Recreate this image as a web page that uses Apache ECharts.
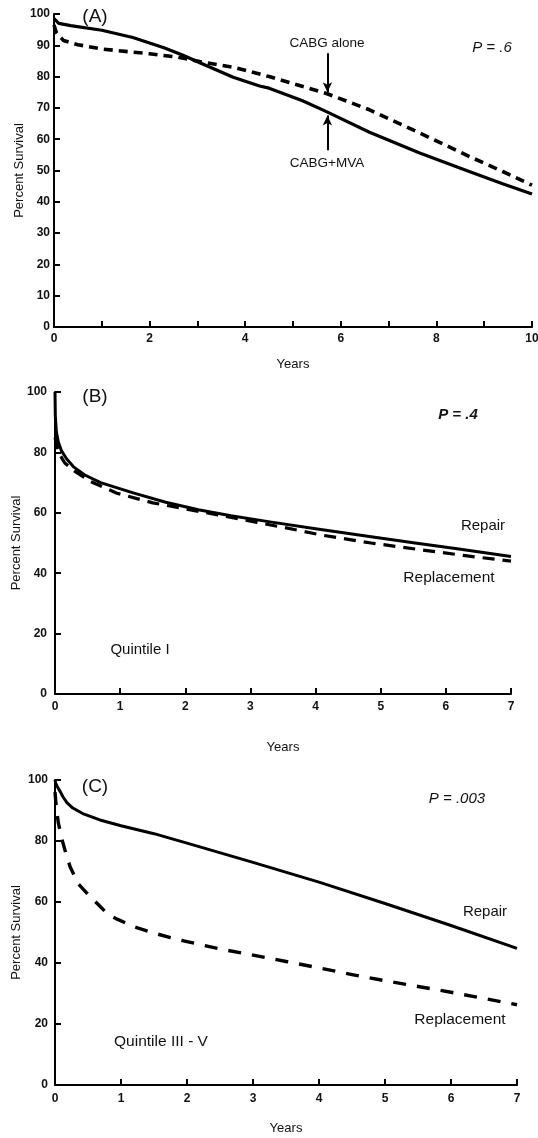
<!DOCTYPE html>
<html>
<head>
<meta charset="utf-8">
<script src="https://cdn.jsdelivr.net/npm/echarts@6/dist/echarts.min.js"></script>
<style>
  html, body { margin: 0; padding: 0; background: #fff; }
  #chart { width: 538px; height: 1138px; }
</style>
</head>
<body>
<div id="chart"></div>
<script>
// panel A: CABG+MVA vs CABG alone, 10 years
const aMvaYears = [0, 0.1, 0.35, 1, 1.65, 2.3, 2.7, 3.05, 3.75, 4.3, 4.5, 5.2, 5.7, 6.6, 7.65, 8.7, 9.4, 10]
const aMvaVals = [98.5, 97, 96.3, 94.8, 92.5, 89.2, 86.8, 84.4, 79.8, 77, 76.3, 72.3, 68.8, 62.2, 55.6, 49.6, 45.7, 42.5]
const aAloneYears = [0, 0.05, 0.2, 0.5, 1, 2, 2.6, 3.05, 3.75, 4.5, 5.7, 6.6, 7.65, 8.7, 9.4, 10]
const aAloneVals = [96.5, 94, 91.5, 90.2, 88.8, 87.3, 86.2, 84.8, 83, 80, 74.6, 69.4, 62, 54.4, 49.6, 45.3]

// panel B: Quintile I
const bRepairYears = [0, 0.005, 0.02, 0.05, 0.1, 0.18, 0.28, 0.45, 0.7, 1.2, 1.7, 2.2, 2.7, 3.3, 4, 4.8, 5.5, 6.2, 7]
const bRepairVals = [100, 92, 87, 83.5, 80.5, 77.8, 75.3, 72.6, 70, 66.6, 63.5, 61, 59, 57, 54.7, 52.2, 50.1, 48, 45.5]
const bReplYears = [0, 0.03, 0.08, 0.15, 0.3, 0.55, 0.95, 1.5, 2, 2.5, 3.1, 3.5, 4.1, 4.85, 5.6, 6.3, 7]
const bReplVals = [85, 82, 79, 76.5, 73.8, 70.3, 66.5, 63.3, 61.3, 59.3, 56.8, 55.2, 52.6, 50, 47.8, 45.8, 44]

// panel C: Quintile III - V
const cRepairYears = [0, 0.01, 0.04, 0.08, 0.12, 0.18, 0.27, 0.42, 0.68, 1, 1.5, 2, 3, 4, 5, 6, 7]
const cRepairVals = [100, 99, 97.6, 96.2, 94.5, 92.6, 90.8, 89, 86.9, 85, 82.4, 79.3, 73, 66.5, 59.5, 52.3, 44.8]
const cReplYears = [0, 0.02, 0.05, 0.1, 0.17, 0.23, 0.35, 0.5, 0.64, 0.8, 0.95, 1.1, 1.25, 1.5, 1.75, 2, 2.5, 3, 3.5, 4, 4.5, 5, 5.5, 6, 6.5, 7]
const cReplVals = [96, 91, 86, 81, 75.5, 71.5, 66, 62.5, 59.5, 56, 54.3, 52.8, 51.5, 49.8, 48.3, 47, 44.6, 42.6, 40.5, 38.4, 36.2, 34.2, 32.3, 30.4, 28.4, 26.3]

// arrows in panel A (year, from, to)
const arrowYear = 5.72
const aloneArrow = [87.5, 75]
const mvaArrow = [56.5, 67.6]

const font = "'Liberation Sans', Arial, sans-serif"
const pairs = (xs, ys) => xs.map((x, i) => [x, ys[i]])

const grids = [
  { left: 54, top: 14, width: 478, height: 313, outerBoundsMode: 'none' },
  { left: 55, top: 392, width: 456, height: 302, outerBoundsMode: 'none' },
  { left: 55, top: 780, width: 462, height: 305, outerBoundsMode: 'none' }
]

function xAxis (i, max, labelMargin, nameGap, evenOnly) {
  return {
    type: 'value',
    gridIndex: i,
    min: 0,
    max: max,
    interval: 1,
    name: 'Years',
    nameLocation: 'middle',
    nameGap: nameGap,
    nameMoveOverlap: false,
    nameTextStyle: { color: '#111', fontFamily: font, fontSize: 13 },
    axisLine: { lineStyle: { color: '#000', width: 2 } },
    axisTick: { inside: true, length: 6, lineStyle: { color: '#000', width: 2 } },
    axisLabel: {
      margin: labelMargin,
      color: '#111',
      fontFamily: font,
      fontSize: 12,
      fontWeight: 'bold',
      formatter: v => (evenOnly && v % 2) ? '' : String(v)
    },
    splitLine: { show: false }
  }
}

function yAxis (i, interval, labelMargin, nameGap) {
  return {
    type: 'value',
    gridIndex: i,
    min: 0,
    max: 100,
    interval: interval,
    name: 'Percent Survival',
    nameLocation: 'middle',
    nameGap: nameGap,
    nameMoveOverlap: false,
    nameTextStyle: { color: '#111', fontFamily: font, fontSize: 13 },
    axisLine: { show: true, lineStyle: { color: '#000', width: 2 } },
    axisTick: { show: true, inside: true, length: 6, lineStyle: { color: '#000', width: 2 } },
    axisLabel: { margin: labelMargin, color: '#111', fontFamily: font, fontSize: 12, fontWeight: 'bold' },
    splitLine: { show: false }
  }
}

function curve (i, data, dash, width) {
  return {
    type: 'line',
    xAxisIndex: i,
    yAxisIndex: i,
    data: data,
    smooth: false,
    showSymbol: false,
    symbol: 'none',
    silent: true,
    lineStyle: { color: '#000', width: width, type: dash || 'solid', cap: 'butt', join: 'round' }
  }
}

function text (x, y, s, size, style, weight) {
  return {
    type: 'text',
    x: x,
    y: y,
    style: {
      text: s,
      fill: '#111',
      font: (style || 'normal') + ' ' + (weight || 'normal') + ' ' + size + 'px ' + font,
      textAlign: 'center',
      textVerticalAlign: 'middle'
    }
  }
}

const arrowLine = (from, to) => [
  { coord: [arrowYear, from], symbol: 'none' },
  { coord: [arrowYear, to], symbol: 'arrow', symbolSize: [7, 10] }
]

const mvaSeries = curve(0, pairs(aMvaYears, aMvaVals), null, 3.2)
mvaSeries.markLine = {
  silent: true,
  animation: false,
  label: { show: false },
  lineStyle: { color: '#000', width: 2, type: 'solid' },
  data: [arrowLine(aloneArrow[0], aloneArrow[1]), arrowLine(mvaArrow[0], mvaArrow[1])]
}

const option = {
  backgroundColor: '#fff',
  animation: false,
  grid: grids,
  xAxis: [
    xAxis(0, 10, 6, 31, true),
    xAxis(1, 7, 7, 47, false),
    xAxis(2, 7, 8, 37, false)
  ],
  yAxis: [
    yAxis(0, 10, 4, 28),
    yAxis(1, 20, 8, 32),
    yAxis(2, 20, 7, 32)
  ],
  series: [
    mvaSeries,
    curve(0, pairs(aAloneYears, aAloneVals), [9, 6], 3.6),
    curve(1, pairs(bRepairYears, bRepairVals), null, 3),
    curve(1, pairs(bReplYears, bReplVals), [12, 8], 3.2),
    curve(2, pairs(cRepairYears, cRepairVals), null, 3),
    curve(2, pairs(cReplYears, cReplVals), [13, 11], 3.4)
  ],
  graphic: [
    text(95, 17, '(A)', 19),
    text(327, 43, 'CABG alone', 13.5),
    text(327, 163, 'CABG+MVA', 13.5),
    text(492, 48, 'P = .6', 15, 'italic'),
    text(95, 397, '(B)', 19),
    text(458, 415, 'P = .4', 15, 'italic', 'bold'),
    text(483, 526, 'Repair', 15),
    text(449, 578, 'Replacement', 15.5),
    text(140, 650, 'Quintile I', 15),
    text(95, 787, '(C)', 19),
    text(457, 799, 'P = .003', 15, 'italic'),
    text(485, 912, 'Repair', 15),
    text(460, 1020, 'Replacement', 15.5),
    text(161, 1042, 'Quintile III - V', 15.5)
  ]
}

const chart = echarts.init(document.getElementById('chart'))
chart.setOption(option)
</script>
</body>
</html>
